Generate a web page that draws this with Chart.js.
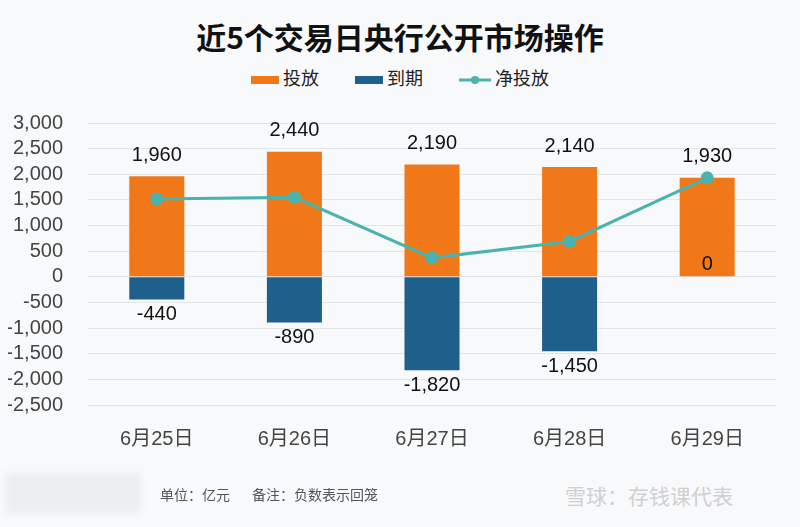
<!DOCTYPE html>
<html>
<head>
<meta charset="utf-8">
<script src="https://cdn.jsdelivr.net/npm/chart.js@4.4.0/dist/chart.umd.min.js"></script>
<style>
  body { margin: 0; background: #f8f9fb; font-family: "Noto Sans CJK SC", "Noto Sans", sans-serif; }
  #wrap { position: relative; width: 800px; height: 527px; overflow: hidden; }
  #title { position: absolute; top: 14px; left: 0; width: 800px; text-align: center; font-size: 30px; font-weight: bold; color: #111; }
  #legend { position: absolute; top: 61px; left: 0; width: 800px; text-align: center; font-size: 18px; color: #222; }
  #legend span.item { display: inline-block; margin: 0 16px; vertical-align: middle; }
  .sw { display: inline-block; width: 28px; height: 8px; vertical-align: middle; margin-right: 4px; }
  #box { position: absolute; top: 86px; left: 0; width: 800px; height: 383px; }
  #foot { position: absolute; top: 484px; left: 160px; font-size: 14px; color: #555; }
  #mark { position: absolute; top: 480px; left: 565px; font-size: 21px; color: #d0d0d0; }
  #blur { position: absolute; top: 473px; left: 6px; width: 135px; height: 40px; background: #eceef0; filter: blur(3px); }
</style>
</head>
<body>
<div id="wrap">
  <div id="title">近5个交易日央行公开市场操作</div>
  <div id="legend">
    <span class="item"><span class="sw" style="background:#f07818"></span>投放</span>
    <span class="item"><span class="sw" style="background:#1f5f8b"></span>到期</span>
    <span class="item"><svg width="32" height="10" style="vertical-align:middle;margin-right:4px"><line x1="0" y1="5" x2="32" y2="5" stroke="#4bb3ad" stroke-width="3"/><circle cx="16" cy="5" r="4" fill="#4bb3ad"/></svg>净投放</span>
  </div>
  <div id="box"><canvas id="c"></canvas></div>
  <div id="blur"></div>
  <div id="foot">单位：亿元 &nbsp;&nbsp;&nbsp;&nbsp;&nbsp; 备注：负数表示回笼</div>
  <div id="mark">雪球：存钱课代表</div>
</div>
<script>
const categories = ['6月25日', '6月26日', '6月27日', '6月28日', '6月29日'];
const injected = [1960, 2440, 2190, 2140, 1930];
const matured = [-440, -890, -1820, -1450, 0];
const net = [1520, 1550, 370, 690, 1930];

const fmt = v => v.toLocaleString('en-US');

// draws the value labels above/below the bars
const barLabels = {
  id: 'barLabels',
  afterDatasetsDraw(chart) {
    const ctx = chart.ctx;
    const zero = chart.scales.y.getPixelForValue(0);
    ctx.save();
    ctx.font = '20px "Liberation Sans", Arial, sans-serif';
    ctx.fillStyle = '#111';
    ctx.textAlign = 'center';
    const up = chart.getDatasetMeta(0).data;
    const down = chart.getDatasetMeta(1).data;
    up.forEach((bar, i) => {
      ctx.textBaseline = 'bottom';
      ctx.fillText(fmt(injected[i]), bar.x, bar.y - 11);
    });
    down.forEach((bar, i) => {
      if (matured[i] === 0) {
        ctx.textBaseline = 'bottom';
        ctx.fillText('0', bar.x, zero - 2);
      } else {
        ctx.textBaseline = 'top';
        ctx.fillText(fmt(matured[i]), bar.x, bar.y + 5);
      }
    });
    ctx.restore();
  }
};

new Chart(document.getElementById('c'), {
  type: 'bar',
  data: {
    labels: categories,
    datasets: [
      { label: '投放', data: injected, backgroundColor: '#f07818', stack: 's', order: 2 },
      { label: '到期', data: matured, backgroundColor: '#1f5f8b', stack: 's', order: 2 },
      { type: 'line', label: '净投放', data: net, borderColor: '#4bb3ad', backgroundColor: '#4bb3ad',
        borderWidth: 3, pointRadius: 5, pointHoverRadius: 5, stack: 'n', order: 1 }
    ]
  },
  options: {
    responsive: true,
    maintainAspectRatio: false,
    animation: false,
    layout: { padding: { left: 8, right: 24, top: 10, bottom: 4 } },
    plugins: { legend: { display: false }, title: { display: false }, tooltip: { enabled: false } },
    datasets: { bar: { barPercentage: 0.4, categoryPercentage: 1 } },
    scales: {
      x: {
        stacked: true,
        grid: { display: false },
        border: { display: false },
        ticks: { color: '#444', font: { size: 20, family: '"Liberation Sans", "Noto Sans CJK SC", sans-serif' }, padding: 14 }
      },
      y: {
        stacked: true,
        min: -2500, max: 3000,
        grid: { color: '#e3e5e8', lineWidth: 1, drawTicks: false },
        border: { display: false },
        afterFit: scale => { scale.width = 80; },
        ticks: { stepSize: 500, autoSkip: false, color: '#444', font: { size: 20, family: '"Liberation Sans", Arial, sans-serif' }, padding: 25,
          callback: v => fmt(v) }
      }
    }
  },
  plugins: [barLabels]
});
</script>
</body>
</html>
